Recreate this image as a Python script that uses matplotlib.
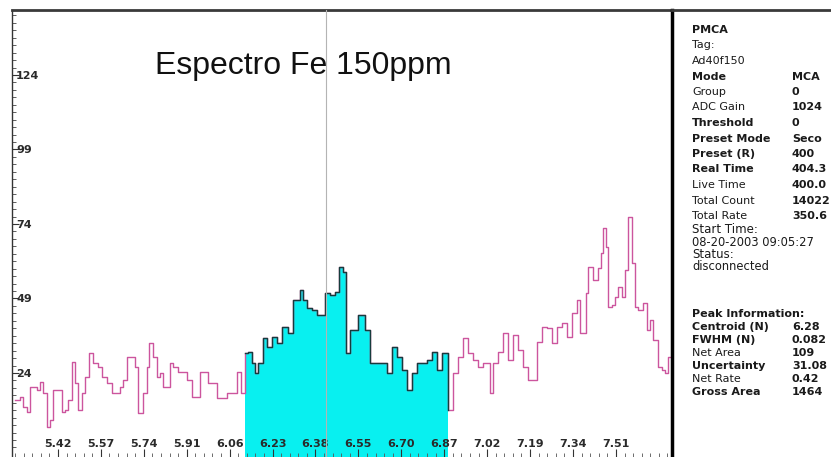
import matplotlib
matplotlib.use('Agg')
import matplotlib.pyplot as plt
import numpy as np
from matplotlib.ticker import FixedLocator

# spectrum (energy in keV, counts per channel)
energy = [5.259, 5.278, 5.289, 5.304, 5.315, 5.341, 5.353, 5.364, 5.379, 5.390,
          5.401, 5.435, 5.446, 5.458, 5.473, 5.484, 5.495, 5.510, 5.521, 5.536,
          5.551, 5.570, 5.585, 5.604, 5.622, 5.652, 5.664, 5.679, 5.709, 5.720,
          5.739, 5.753, 5.761, 5.776, 5.791, 5.802, 5.813, 5.840, 5.851, 5.870,
          5.903, 5.922, 5.952, 5.982, 6.016, 6.053, 6.091, 6.106, 6.120, 6.132,
          6.147, 6.158, 6.169, 6.188, 6.203, 6.222, 6.240, 6.259, 6.282, 6.300,
          6.327, 6.338, 6.353, 6.371, 6.390, 6.420, 6.439, 6.458, 6.473, 6.488,
          6.499, 6.514, 6.544, 6.570, 6.589, 6.652, 6.671, 6.690, 6.709, 6.727,
          6.746, 6.765, 6.802, 6.821, 6.840, 6.858, 6.881, 6.900, 6.918, 6.937,
          6.956, 6.974, 6.993, 7.012, 7.038, 7.049, 7.068, 7.087, 7.106, 7.124,
          7.143, 7.162, 7.181, 7.214, 7.233, 7.252, 7.270, 7.289, 7.308, 7.327,
          7.345, 7.364, 7.375, 7.398, 7.405, 7.424, 7.443, 7.454, 7.461, 7.473,
          7.480, 7.495, 7.506, 7.517, 7.532, 7.544, 7.555, 7.570, 7.581, 7.592,
          7.611, 7.626, 7.637, 7.649, 7.667, 7.682, 7.694, 7.705]
counts = [15, 16, 12.6, 11, 19.3, 18.3, 21, 17.3, 5.9, 8.2,
          18.3, 11, 11.6, 15, 27.7, 20.6, 11.6, 17.3, 22.7, 30.7,
          27.3, 26, 22.7, 20.7, 17.3, 19.3, 21.7, 29.4, 26, 10.6,
          17.3, 26, 34, 29.4, 22.7, 24, 19.3, 27.3, 26, 24.3,
          21.7, 16, 24.3, 20.7, 15.6, 17.3, 24.3, 17.3, 30.7, 31,
          27.3, 24, 27.3, 35.7, 32.7, 36, 34, 39.4, 37.4, 48.5,
          51.8, 48.5, 45.8, 45, 43.5, 50.8, 50.2, 51.2, 59.6, 57.9,
          30.7, 38.4, 43.5, 38.4, 27.3, 24, 32.7, 29.4, 25, 18.3,
          24, 27.3, 28.4, 31, 25, 30.7, 11.6, 24, 29.4, 35.7,
          30.7, 28.4, 26, 27.3, 17.3, 27.3, 31, 37.4, 28.4, 36.8,
          31.7, 26, 21.7, 34.4, 39.4, 39, 34, 39.4, 40.8, 36,
          44.1, 48.5, 37.4, 50.8, 59.6, 55.2, 59.2, 64.2, 72.7, 66.3,
          46.1, 46.8, 49.5, 52.9, 49.5, 58.6, 76.4, 60.9, 46.1, 45.1,
          47.5, 38.4, 41.8, 35.1, 26, 25, 24, 29.4]

roi_start, roi_end = 6.120, 6.881
cursor = 6.424
x_min, x_max = 5.248, 7.720
y_min, y_max = -4.2, 145.8

y_ticks = [24, 49, 74, 99, 124]
x_labels = ['5.42', '5.57', '5.74', '5.91', '6.06', '6.23', '6.38',
            '6.55', '6.70', '6.87', '7.02', '7.19', '7.34', '7.51']

panel_labels = ['PMCA', 'Tag:', 'Ad40f150', 'Mode', 'Group', 'ADC Gain',
                'Threshold', 'Preset Mode', 'Preset (R)', 'Real Time',
                'Live Time', 'Total Count', 'Total Rate', 'Start Time:',
                '08-20-2003 09:05:27', 'Status:', 'disconnected',
                'Peak Information:', 'Centroid (N)', 'FWHM (N)', 'Net Area',
                'Uncertainty', 'Net Rate', 'Gross Area']
panel_values = ['', '', '', 'MCA', '0', '1024', '0', 'Seco', '400',
                '404.3', '400.0', '14022', '350.6', '', '', '', '',
                '', '6.28', '0.082', '109', '31.08', '0.42', '1464']
panel_rows = [30, 45.5, 61, 76.5, 92, 107.5, 123, 138.5, 154, 169.5, 185,
              200.5, 216, 230, 242, 254, 266, 314, 327, 340, 353, 366, 379, 392]
panel_bold = [1, 0, 0, 1, 0, 0, 1, 1, 1, 1, 0, 0, 0, 0, 0, 0, 0,
              1, 1, 1, 0, 1, 0, 1]
panel_size = [8, 8, 8, 8, 8, 8, 8, 8, 8, 8, 8, 8, 8, 8.5, 8.3, 8.5, 8.3,
              8, 8, 8, 8, 8, 8, 8]

W, H = 831, 457
fig = plt.figure(figsize=(W / 100, H / 100), dpi=100)
fig.patch.set_facecolor('white')
ax = fig.add_axes([12 / W, 0, (672 - 12) / W, 1 - 10 / H])

e = np.array(energy)
c = np.array(counts)
mask = (e >= roi_start) & (e <= roi_end)

ax.fill_between(e[mask], c[mask], y_min, step='post', color='#08f0f0', lw=0, zorder=1)
ax.step(np.append(e, x_max), np.append(c, c[-1]), where='post',
        color='#cc559e', lw=1.0, zorder=2)
ax.step(e[mask], c[mask], where='post', color='#163c3c', lw=1.0, zorder=3)
ax.axvline(cursor, color='#b4b4b4', lw=0.8, zorder=4)

ax.set_xlim(x_min, x_max)
ax.set_ylim(y_min, y_max)

ax.set_yticks(y_ticks)
ax.set_yticklabels([str(v) for v in y_ticks])
ax.yaxis.set_minor_locator(FixedLocator(np.arange(-1, 146, 2.5)))
ax.tick_params(axis='y', which='major', direction='in', length=5, width=0.8,
               pad=-3, labelsize=8, labelcolor='#2a2a2a', color='#333333')
ax.tick_params(axis='y', which='minor', direction='in', length=3, width=0.6,
               color='#444444')

x_pos = np.linspace(float(x_labels[0]), float(x_labels[-1]), len(x_labels))
ax.set_xticks(x_pos)
ax.set_xticklabels(x_labels)
step = (x_pos[1] - x_pos[0]) / 5
ax.xaxis.set_minor_locator(FixedLocator(np.arange(x_pos[0] - 2 * step * 5, x_max, step)))
ax.tick_params(axis='x', which='major', direction='in', length=6, width=0.8,
               pad=-6, labelsize=8, labelcolor='#2a2a2a', color='#333333')
ax.tick_params(axis='x', which='minor', direction='in', length=3, width=0.6,
               color='#555555')

for lbl in ax.get_yticklabels():
    lbl.set_ha('left')
    lbl.set_fontweight('bold')
for lbl in ax.get_xticklabels():
    lbl.set_va('bottom')
    lbl.set_fontweight('bold')

ax.spines['bottom'].set_visible(False)
ax.spines['right'].set_visible(False)
ax.spines['left'].set_color('#333333')
ax.spines['left'].set_linewidth(1.0)
ax.spines['top'].set_color('#3a3a3a')
ax.spines['top'].set_linewidth(2)

fig.text(155 / W, 1 - 74 / H, 'Espectro Fe 150ppm', fontfamily='Liberation Sans',
         fontsize=23, va='baseline', ha='left', color='#111111')

# info panel on the right
pax = fig.add_axes([672 / W, 0, 1 - 672 / W + 0.01, 1 - 10 / H])
pax.set_xticks([])
pax.set_yticks([])
for s in ['right', 'bottom']:
    pax.spines[s].set_visible(False)
pax.spines['left'].set_color('black')
pax.spines['left'].set_linewidth(2.5)
pax.spines['top'].set_color('#3a3a3a')
pax.spines['top'].set_linewidth(2)

for lab, val, row, b, sz in zip(panel_labels, panel_values, panel_rows, panel_bold, panel_size):
    wt = 'bold' if b else 'normal'
    fig.text(692 / W, 1 - row / H, lab, fontfamily='DejaVu Sans', fontsize=sz,
             fontweight=wt, va='center', ha='left', color='#1a1a1a')
    if val:
        fig.text(792 / W, 1 - row / H, val, fontfamily='DejaVu Sans', fontsize=8,
                 fontweight='bold', va='center', ha='left', color='#1a1a1a')

fig.savefig('out.png', dpi=100)
